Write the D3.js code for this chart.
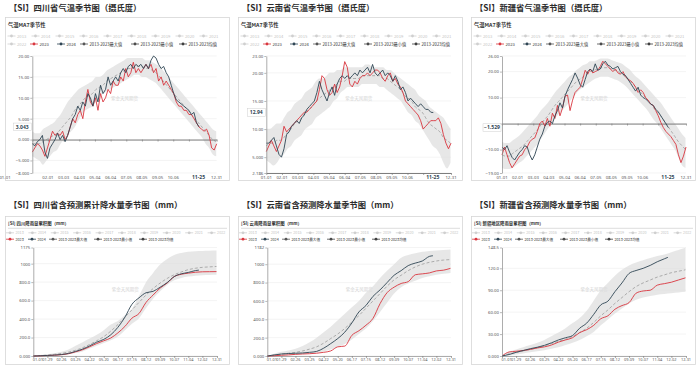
<!DOCTYPE html>
<html><head><meta charset="utf-8">
<script src="https://cdn.jsdelivr.net/npm/d3@7"></script>
<style>
body{margin:0;background:#fff}
svg{display:block}
text{font-family:"Noto Sans CJK SC","Noto Sans",sans-serif}
</style>
</head><body>
<svg id="c" width="700" height="365"></svg>
<script>
// ---------------- DATA ----------------
const monthTickDays = [0,31,62,93,124,155,186,217,248,279,310,365];
const monthTickLabels = ['01-01','02-01','03-03','04-03','05-04','06-04','07-05','08-05','09-05','10-06','11-06','12-31'];
const precipTickDays = [0,28,56,84,112,140,168,196,224,252,280,308,336,365];
const precipTickLabels = ['01-01','01-29','02-26','03-25','04-22','05-20','06-17','07-15','08-12','09-09','10-07','11-04','12-02','12-31'];
const crossDay = 329, crossDayLabel = '11-25';
const tempLineStep = 5, tempBandStep = 7;
const precipDays = [0,14,28,42,56,70,84,98,112,126,140,154,168,182,196,210,224,238,252,266,280,294,308,322,336,350,364];
const precip24Days = [0,14,28,42,56,70,84,98,112,126,140,154,168,182,196,210,224,238,252,266,280,294,308,322,329];

const legendYearsTop = ['2013','2014','2015','2016','2017','2018','2019','2020','2021'];
const legendRow2Top = ['2022','2023','2024','2013-2023最大值','2013-2023最小值','2013-2023均值'];
const legendYearsBottom = ['2013','2014','2015','2016','2017','2018','2019','2020','2021','2022'];
const legendRow2Bottom = ['2023','2024','2013-2023最大值','2013-2023最小值','2013-2023均值'];

// Sichuan temperature
const scT23 = [-3,-2,-1,-1.5,-2.5,-4,-2,0,2,1,1.5,1,2,0,1,3,5,4,6,7,5,9,12,9,8,10,7,11,9,10,12,11,14,13,13,15,14,17,15,16,18.5,16,17,16,17,18,17,18,16,17,14,15,13,14,13,12,11,9,8,8,7,7,6,6,5,4,3,2.5,2,2.5,1,-2,-2.5,-1];
const scT24 = [-1,-1.5,-0.5,0,1,-3,-4.5,-2,-1,0,1.5,0,1,-0.5,1,3,5,6,8,7,9,8,11,10,8,11,9,13,11,12,15,13,14,15,14,16,17,16,17.5,18,17,18,17.5,18,17,18,17,19,20,19.5,18,17,17.5,16,15,13,11,9.5,9,8.5,8,7.5,7,6,6.5,4,3.043];
const scTMean = [-1,-1,-1,-0.5,0,0.5,1,1.5,2.5,3.5,4.5,5.5,7,8,9,10,10.5,11,12,12.5,13,14,14.5,15,15.5,16,16.5,17,17,17.5,17.5,17.5,17,17,16.5,16,15,14,13,12,11,10,9,8,7,6,5,4,3,2,1,0,-0.5];
const scTMax = [2,1.5,1.5,2.5,3,3.5,4,5,6,7.5,9,10,11,12,12.5,13,13.5,14,15,15,15.5,16.5,17,17.5,18,18.5,19,19.5,19.5,19.5,19.5,19.5,19,19,18.5,18,17.5,16.5,15.5,14.5,13.5,12.5,11.5,10.5,9.5,8.5,7.5,6.5,5.5,4.5,3.5,2.5,2];
const scTMin = [-4,-4.5,-5,-6,-5,-4,-3,-2.5,-1,0,1,2,3,4.5,6,7,7.5,8,9,10,11,11.5,12,12.5,13,13.5,14,14.5,15,15.5,15.5,15,15,14.5,14,13.5,12.5,11.5,10.5,9.5,8.5,7.5,6.5,5.5,4.5,3.5,2.5,1.5,0.5,-1,-2,-3.5,-4];
const scTTicks = [-8,-5,0,5,10,15,20];

// Yunnan temperature
const ynT23 = [6,7,8,7,6,7,8,10.5,9.5,10,10.5,11,11.5,12,12.5,13,13,13.5,14,14.5,15,17,19.5,19,17,16,16.5,18,16.5,17.5,19.5,22,21,18,17.5,18.5,18,19,19.5,19.5,20,19.5,20,20.5,20.5,20,19,18.5,19.5,20,18.5,19,18,17.5,16.5,15,14.5,14,13.5,13,12.5,11.5,10,10.5,11,11.5,11.5,11.5,12,11,9,7.5,6.5,7.5];
const ynT24 = [7.5,7.5,8,8.5,7,5.5,5,6.5,9,9.5,10.5,11,11.5,11,12,12.5,13.5,14,14.5,15,16.5,18.5,17,16,15,16.5,17.5,16,18,19,19.5,19,19.5,19,19.5,20,19.5,20.5,20,20.5,21,20,21.5,20,19.5,20,20.5,19.5,20,19.5,18.5,19.5,18.5,17,17.5,16.5,15,15.5,15,14.5,14,14.5,14,13.5,13.5,13,12.94];
const ynTMean = [7,7.5,7.5,8,8,8.5,9.5,10,11,11.5,12,13,13.5,14,15,15.5,16,16.5,17,17.5,18,18.5,18.5,19,19,19,19,19.5,19.5,19.5,19.5,19.5,19.5,19,19,18.5,18,17.5,17,16,15.5,15,14,13.5,13,12,11,10.5,10,9.5,8.5,8,7.5];
const ynTMax = [10,10,10.5,11,11,12,13,13.5,14.5,15,15.5,16.5,17,17.5,18.5,19,19,19.5,20,20,20.5,20.5,21,21,21,21,21,21,21.5,21.5,21,21,21,21,20.5,20.5,20,19.5,19,18.5,18,17.5,17,16,15.5,15,14,13.5,13,12.5,12,11,10];
const ynTMin = [4.5,4,3.5,4,5,5.5,6.5,7,8,8.5,9,10,10.5,11,12,12.5,13,13.5,14,15,15.5,16.5,17,17.5,17.5,17.5,17.5,18,18,18,18,18,17.5,17.5,17,16.5,16,15.5,15,14,13,12.5,11.5,11,10,9,8,7,6.5,5.5,4,3,4];
const ynTTicks = [2.186,5,10,15,20,23];

// Xinjiang temperature
const xjT23 = [-12,-9,-12,-15,-17,-15.5,-14,-12.5,-12,-10,-9,-7,-6,-5.5,-3,0,1,-1,2,-1,4,2,7,3,6,10.5,11,5,9,12,13,14,17,20.5,19,21,19.5,20,20.5,22,24,23,22,21,20,21,19.5,19,20,18,17,16.5,15.5,14,12,13,12,10,9,7.5,7,5,3,0.5,-1.5,-3,-4,-5,-6.5,-8,-12,-15,-12.5,-9];
const xjT24 = [-9,-10,-8.5,-11,-13,-14,-12.5,-11,-10,-8.5,-9,-12,-14,-12,-9,-6,-4,-1,0.5,1,0,3,5,8,6,10.5,13,15,17,19.5,17.5,15,14,17,20,21,20,23,20.5,21,23,24,22.5,22,21,21.5,22,20,19,18.5,17,15.5,14,12.5,14,11,10,9.5,8.5,7.5,7,5.5,4.5,3,1.5,0,-1.529];
const xjTMean = [-12,-12.5,-12.5,-11.5,-10.5,-9.5,-8.5,-7,-5.5,-4,-2.5,-0.5,1.5,3,5,7,8.5,10,11.5,13,14.5,16,17,18,19,20,20.5,21,21.5,21.5,21.5,21,20.5,20,19,18,17,15.5,14,12.5,11,9.5,8,6,4.5,3,1,-1,-3,-5,-7,-8.5,-10];
const xjTMax = [-7,-7.5,-7.5,-6.5,-5.5,-4.5,-3,-1.5,0,1.5,3,5,6.5,8,10,12,13.5,15,16.5,18,19,20.5,21.5,22.5,23,24,24,24.5,25,25,25,24.5,24,23.5,23,22,21,19.5,18,17,15.5,14,12.5,11,9.5,8,6,4,2,0,-2,-4,-5.5];
const xjTMin = [-17,-17.5,-17.5,-17,-16,-15,-14,-12.5,-11,-9.5,-8,-6,-4,-2,0,2,3.5,5,6.5,8,10,11.5,13,14,15,16,17,17.5,18,18,18,17.5,17,16.5,15.5,14.5,13,11.5,10,8.5,7,5.5,3.5,1.5,0,-2,-4,-6,-8,-10,-13,-16,-17];
const xjTTicks = [-19,-10,0,10,20,26];

// Sichuan precipitation (cumulative)
const scP23 = [0,2,5,8,14,25,45,68,100,135,165,195,250,320,410,460,580,660,735,790,860,885,897,907,912,913,914];
const scP24 = [0,3,6,10,16,28,50,75,110,150,180,230,310,420,560,630,685,700,745,795,860,890,905,925,930];
const scPMean = [0,5,10,18,28,42,62,90,125,165,210,270,340,420,500,580,660,730,790,840,880,910,935,950,960,965,970];
const scPMax = [0,10,20,30,45,70,110,150,190,230,280,340,380,440,510,650,800,900,990,1050,1095,1115,1128,1135,1138,1140,1142];
const scPMin = [0,1,3,6,10,18,32,50,80,110,140,170,210,280,350,410,520,620,700,770,820,845,860,870,875,878,880];
const scPTicks = [0,200,400,600,800,1000,1175];

// Yunnan precipitation
const ynP23 = [0,3,8,12,18,22,25,30,40,55,100,108,225,275,335,410,570,690,750,790,810,885,895,905,927,935,955];
const ynP24 = [0,12,22,27,30,33,40,50,85,135,190,260,360,480,550,650,720,800,880,930,985,1012,1035,1085,1092];
const ynPMean = [0,10,20,30,40,55,75,100,140,190,240,300,370,440,520,600,680,760,830,880,930,970,1000,1020,1035,1045,1050];
const ynPMax = [0,25,45,60,80,110,150,200,260,320,390,460,530,600,690,760,850,930,1000,1070,1100,1120,1135,1145,1150,1155,1160];
const ynPMin = [0,2,5,8,12,18,25,35,50,70,100,130,180,240,300,380,480,580,680,750,790,820,850,870,885,895,905];
const ynPTicks = [0,200,400,600,800,1000,1182];

// Xinjiang precipitation
const xjP23 = [0,5.5,6.5,7.5,9,11,12.5,15,19,22,25,32,36,42,51,55,64,69,73,86,89,90,97,99,101,104,107];
const xjP24 = [0,2,5,7.5,10,12,14.5,18,22,25,28,38,45,57,70,75,88,100,113,117,120,124,129,133,135];
const xjPMean = [0,3,5,7,9,11.5,14,17,20,23,27,32,38,46,55,63,72,80,88,95,100,104,108,111,114,116,118];
const xjPMax = [0,6,9,12,15,18,22,27,32,38,45,52,62,76,90,100,110,118,124,128,131,134,137,139,142,145,148];
const xjPMin = [0,1,2,3.5,5,6.5,8,10,12,15,18,22,27,33,42,50,58,65,72,77,80,82,84,85,86,87,88];
const xjPTicks = [0,30,60,90,120,148.5];

// ---------------- DRAW ----------------
const svg = d3.select('#c');
const RED = '#d9363e', NAVY = '#2f4554';
const fmt = d3.format('.4r');

function legendItem(g, cx, cy, label, color, textColor, size, weight){
  g.append('line').attr('x1',cx-4).attr('x2',cx+4).attr('y1',cy).attr('y2',cy)
    .attr('stroke',color).attr('stroke-width',0.8);
  g.append('circle').attr('cx',cx).attr('cy',cy).attr('r',1.4).attr('fill',color);
  g.append('text').attr('x',cx+5.5).attr('y',cy+size*0.36).attr('font-size',size)
    .attr('fill',textColor).attr('font-weight',weight||400).text(label);
}

function drawPanel(c){
  const g = svg.append('g').attr('transform',`translate(${c.x0},0)`);
  const top = c.kind === 'temp';
  // title
  g.append('text').attr('x',9).attr('y',top?10.8:208.3).attr('font-size',8.3)
    .attr('font-weight',700).attr('fill','#2b2b2b').text(c.title);
  // box
  const boxY = top?17.5:216.5, boxH = top?163:148;
  g.append('rect').attr('x',5.5).attr('y',boxY).attr('width',224).attr('height',boxH)
    .attr('fill','#fff').attr('stroke','#d6d6d6').attr('stroke-width',0.8);
  // subtitle
  g.append('text').attr('x',8).attr('y',top?27.3:224.6).attr('font-size',top?5.3:4.4)
    .attr('font-weight',700).attr('fill','#333').text(c.subtitle);
  // legend
  const lg = g.append('g');
  const fs = top?4.2:3.7;
  if(!top){
    lg.append('line').attr('x1',8).attr('x2',227).attr('y1',228.3).attr('y2',228.3)
      .attr('stroke','#e4e4e4').attr('stroke-width',1.2);
  }
  const r1y = top?36:232.8, r2y = top?44:239.2;
  const years = top?legendYearsTop:legendYearsBottom;
  const step1 = top?24:22.4, start1 = top?11.5:10;
  years.forEach((t,i)=>legendItem(lg,start1+step1*i,r1y,t,'#cfcfcf','#c4c4c4',fs));
  const row2 = top?legendRow2Top:legendRow2Bottom;
  const pos2 = top?[11.5,34,61,84,135,183]:[10,32,53,98,143];
  const col2 = top?['#cfcfcf',RED,NAVY,'#555','#4a4a4a','#3f3f3f']:[RED,NAVY,'#555','#4a4a4a','#3f3f3f'];
  row2.forEach((t,i)=>legendItem(lg,pos2[i],r2y,t,col2[i],col2[i]==='#cfcfcf'?'#c4c4c4':'#333',fs));

  const L=c.L, R=c.R, T=top?56:247.5, B=top?173:356;
  const x = d3.scaleLinear().domain([0,365]).range([L,R]);
  const y = d3.scaleLinear().domain([c.ticks[0], c.ticks[c.ticks.length-1]]).range([B,T]);

  // grid
  g.append('g').selectAll('line').data(c.ticks).join('line')
    .attr('x1',L).attr('x2',R).attr('y1',d=>y(d)).attr('y2',d=>y(d))
    .attr('stroke','#ededed').attr('stroke-width',0.6);

  // watermark
  g.append('text').attr('x',(L+R)/2).attr('y',top?99.5:291).attr('text-anchor','middle')
    .attr('font-size',4.5).attr('fill','#d4d4d4').text('紫金天风期货');

  const bx = (d,i)=> top? x(i*tempBandStep) : x(precipDays[i]);
  // band
  const band = c.max.map((v,i)=>({i, hi:v, lo:c.min[i]}));
  g.append('path').datum(band)
    .attr('d', d3.area().x(d=>bx(null,d.i)).y0(d=>y(d.lo)).y1(d=>y(d.hi)).curve(d3.curveMonotoneX))
    .attr('fill','#dcdcdc').attr('fill-opacity',0.68);
  // mean
  g.append('path').datum(c.mean)
    .attr('d', d3.line().x((d,i)=>bx(d,i)).y(d=>y(d)).curve(d3.curveMonotoneX))
    .attr('fill','none').attr('stroke','#9c9c9c').attr('stroke-width',0.8).attr('stroke-dasharray','3,2');

  // x axis line
  const axisY = (c.ticks[0] < 0) ? y(0) : B;
  const ax = g.append('g').attr('transform',`translate(0,${axisY})`)
    .call(d3.axisBottom(x).tickValues(top?monthTickDays:precipTickDays).tickFormat('').tickSize(2).tickSizeOuter(0));
  ax.select('.domain').attr('stroke', top?'#6f6f6f':'#8a8a8a').attr('stroke-width',top?0.9:0.7);
  ax.selectAll('.tick line').attr('stroke','#777').attr('stroke-width',0.6);

  // lines
  const lx23 = (d,i)=> top? x(i*tempLineStep) : x(precipDays[i]);
  const lx24 = (d,i)=> top? x(i*tempLineStep) : x(precip24Days[i]);
  const cv = top?d3.curveLinear:d3.curveMonotoneX;
  g.append('path').datum(c.s23).attr('d',d3.line().x(lx23).y(d=>y(d)).curve(cv))
    .attr('fill','none').attr('stroke',RED).attr('stroke-width',0.9);
  g.append('path').datum(c.s24).attr('d',d3.line().x(lx24).y(d=>y(d)).curve(cv))
    .attr('fill','none').attr('stroke',NAVY).attr('stroke-width',0.9);

  // crosshair value
  const last = c.s24[c.s24.length-1];
  const cyv = y(last);

  // y axis
  const hideTick = v => top && Math.abs(y(v)-cyv) < 7;
  const ya = g.append('g').attr('transform',`translate(${L},0)`)
    .call(d3.axisLeft(y).tickValues(c.ticks).tickFormat(v=> hideTick(v)?'':fmt(v)).tickSize(2).tickSizeOuter(0));
  ya.select('.domain').attr('stroke','#8a8a8a').attr('stroke-width',0.7);
  ya.selectAll('.tick line').attr('stroke','#8a8a8a').attr('stroke-width',0.6);
  ya.selectAll('.tick text').attr('font-size',4.3).attr('fill','#555').attr('x',-3)
    .style('font-family','"Noto Sans","DejaVu Sans",sans-serif');

  // x labels at bottom
  const tDays = top?monthTickDays:precipTickDays;
  const tLabs = top?monthTickLabels:precipTickLabels;
  const ly = top?178.6:361.2;
  const xl = top ? tDays.map((d,i)=>i).filter(i=>Math.abs(x(tDays[i])-x(crossDay))>12) : tDays.map((d,i)=>i);
  g.append('g').selectAll('text').data(xl).join('text')
    .attr('x',i=> (i===0) ? (c.firstLabelX!==undefined ? c.firstLabelX : (top ? x(0) : L-0.5)) : x(tDays[i]))
    .attr('text-anchor',i=> (i===0 && !top) ? 'start' : 'middle')
    .attr('y',ly).attr('font-size',top?4.3:3.9).attr('fill','#555')
    .style('font-family','"Noto Sans","DejaVu Sans",sans-serif')
    .text(i=>tLabs[i]);

  // crosshair labels (temperature)
  if(top){
    const cx = L-10;
    g.append('rect').attr('x',cx-9).attr('y',cyv-3.8).attr('width',18).attr('height',7.6)
      .attr('fill','#fff').attr('stroke','#d0d0d0').attr('stroke-width',0.5);
    g.append('text').attr('x',cx).attr('y',cyv+1.8).attr('text-anchor','middle').attr('font-size',5)
      .attr('font-weight',700).attr('fill',NAVY).style('font-family','"Noto Sans","DejaVu Sans",sans-serif').text(fmt(last));
    const xx = x(crossDay);
    g.append('text').attr('x',xx).attr('y',ly+0.2).attr('text-anchor','middle').attr('font-size',5)
      .attr('font-weight',700).attr('fill',NAVY).style('font-family','"Noto Sans","DejaVu Sans",sans-serif').text(crossDayLabel);
  }
}

drawPanel({x0:0, kind:'temp', title:'【SI】四川省气温季节图（摄氏度）', subtitle:'气温MA7季节性',
  L:32.3, R:216.7, ticks:scTTicks, s23:scT23, s24:scT24, mean:scTMean, max:scTMax, min:scTMin, firstLabelX:5});
drawPanel({x0:233, kind:'temp', title:'【SI】云南省气温季节图（摄氏度）', subtitle:'气温MA7季节性',
  L:33.3, R:218, ticks:ynTTicks, s23:ynT23, s24:ynT24, mean:ynTMean, max:ynTMax, min:ynTMin});
drawPanel({x0:466, kind:'temp', title:'【SI】新疆省气温季节图（摄氏度）', subtitle:'气温MA7季节性',
  L:36, R:220, ticks:xjTTicks, s23:xjT23, s24:xjT24, mean:xjTMean, max:xjTMax, min:xjTMin});
drawPanel({x0:0, kind:'precip', title:'【SI】四川省含预测累计降水量季节图（mm）', subtitle:'[SI] 四川降雨量累积图（mm）',
  L:33.3, R:217, ticks:scPTicks, s23:scP23, s24:scP24, mean:scPMean, max:scPMax, min:scPMin});
drawPanel({x0:233, kind:'precip', title:'【SI】云南省含预测降水量季节图（mm）', subtitle:'[SI] 云南降雨量累积图（mm）',
  L:34.3, R:218, ticks:ynPTicks, s23:ynP23, s24:ynP24, mean:ynPMean, max:ynPMax, min:ynPMin});
drawPanel({x0:466, kind:'precip', title:'【SI】新疆省含预测降水量季节图（mm）', subtitle:'[SI] 新疆地区降雨量累积图（mm）',
  L:36, R:220, ticks:xjPTicks, s23:xjP23, s24:xjP24, mean:xjPMean, max:xjPMax, min:xjPMin});
</script>
</body></html>
